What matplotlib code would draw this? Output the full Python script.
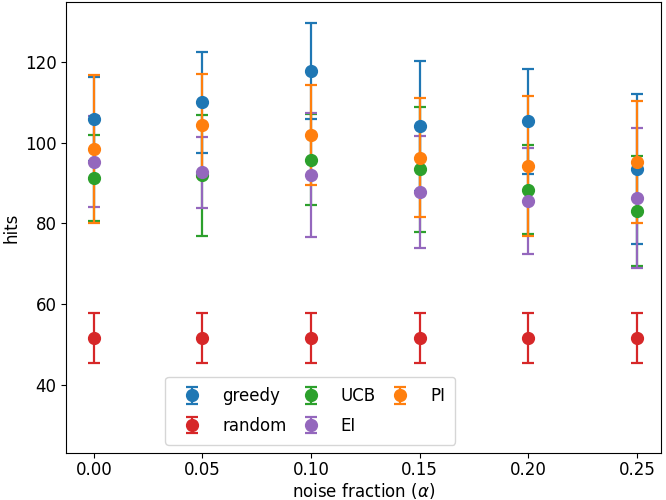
import matplotlib
matplotlib.use('Agg')
import matplotlib.pyplot as plt

# noise fraction values on the x axis
alphas = [0.00, 0.05, 0.10, 0.15, 0.20, 0.25]

# mean hits and std for each strategy
greedy_mean = [105.9, 110.0, 117.8, 104.2, 105.3, 93.6]
greedy_err = [10.5, 12.5, 12.0, 16.1, 13.0, 18.6]

random_mean = [51.6, 51.6, 51.6, 51.6, 51.6, 51.6]
random_err = [6.2, 6.2, 6.2, 6.2, 6.2, 6.2]

ucb_mean = [91.2, 92.0, 95.8, 93.4, 88.4, 83.1]
ucb_err = [10.7, 15.0, 11.3, 15.4, 11.1, 13.6]

ei_mean = [95.3, 92.7, 92.0, 87.8, 85.6, 86.3]
ei_err = [11.3, 8.8, 15.4, 13.9, 13.1, 17.4]

pi_mean = [98.5, 104.3, 102.0, 96.3, 94.3, 95.2]
pi_err = [18.3, 12.7, 12.4, 14.7, 17.3, 15.2]

series = [
    ('greedy', greedy_mean, greedy_err, 'C0'),
    ('random', random_mean, random_err, 'C3'),
    ('UCB', ucb_mean, ucb_err, 'C2'),
    ('EI', ei_mean, ei_err, 'C4'),
    ('PI', pi_mean, pi_err, 'C1'),
]

plt.rcParams['font.size'] = 12

fig, ax = plt.subplots(figsize=(6.66, 5.0), dpi=100)
for name, mean, err, color in series:
    ax.errorbar(alphas, mean, yerr=err, fmt='o', color=color, markersize=8.5,
                capsize=4, elinewidth=1.6, capthick=1.6, label=name)

ax.set_xlim(-0.0126, 0.261)
ax.set_ylim(23.1, 134.9)
ax.set_xticks(alphas)
ax.set_xticklabels([f'{a:.2f}' for a in alphas])
ax.set_yticks([40, 60, 80, 100, 120])
ax.tick_params(axis='x', pad=2.5)
ax.set_xlabel(r'noise fraction ($\alpha$)', labelpad=1)
ax.set_ylabel('hits', labelpad=3)
ax.legend(ncol=3, loc='lower center', bbox_to_anchor=(0.41, 0.0),
          columnspacing=0.45, borderpad=0.6, labelspacing=0.7)

plt.subplots_adjust(left=0.0998, right=0.9925, top=0.996, bottom=0.094)
plt.savefig('out.png', dpi=100)
